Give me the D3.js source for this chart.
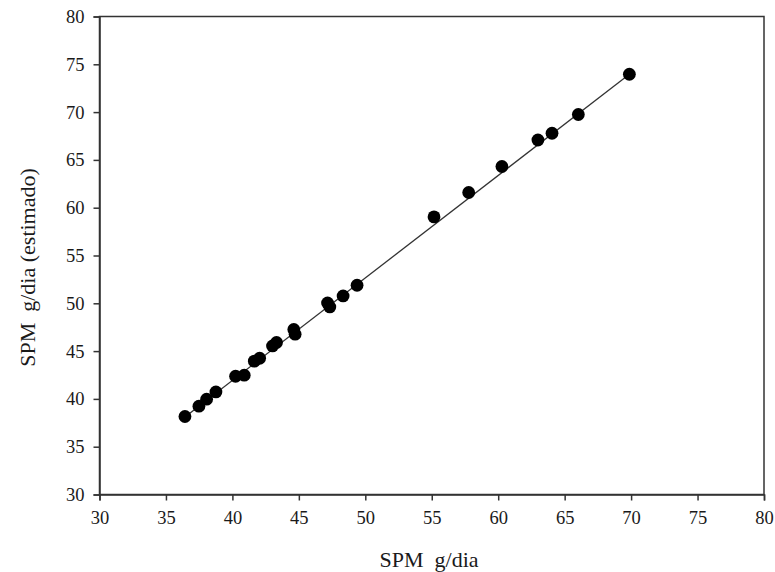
<!DOCTYPE html>
<html>
<head>
<meta charset="utf-8">
<script src="https://cdn.jsdelivr.net/npm/d3@7/dist/d3.min.js"></script>
<style>
  html, body { margin: 0; padding: 0; background: #fff; }
  svg text { font-family: "Liberation Serif", "Times New Roman", serif; fill: #1a1a1a; }
</style>
</head>
<body>
<svg id="chart" width="775" height="572"></svg>
<script>
// Observed vs. estimated SPM (g/dia)
const spmObserved = [36.43, 37.48, 38.06, 38.76, 40.24, 40.89, 41.65, 42.05, 43.02, 43.32,
                     44.62, 44.72, 47.16, 47.33, 48.33, 49.38, 55.17, 57.78, 60.28, 62.99,
                     64.05, 66.03, 69.87];
const spmEstimated = [38.16, 39.24, 39.97, 40.73, 42.37, 42.48, 43.95, 44.25, 45.54, 45.90,
                      47.26, 46.77, 50.04, 49.62, 50.77, 51.89, 59.04, 61.59, 64.31, 67.08,
                      67.79, 69.75, 73.96];

// Fitted line end points
const fitX = [36.43, 69.87];
const fitY = [38.10, 73.96];

const xTicks = [30, 35, 40, 45, 50, 55, 60, 65, 70, 75, 80];
const yTicks = [30, 35, 40, 45, 50, 55, 60, 65, 70, 75, 80];

const xTitle = "SPM\u00a0\u00a0g/dia";
const yTitle = "SPM\u00a0\u00a0g/dia (estimado)";

const svg = d3.select("#chart");
const plotLeft = 99.5, plotRight = 764, plotTop = 16.5, plotBottom = 494.5;

const x = d3.scaleLinear().domain([30, 80]).range([plotLeft, plotRight]);
const y = d3.scaleLinear().domain([30, 80]).range([plotBottom, plotTop]);

const axisColor = "#333";

// frame
svg.append("rect")
  .attr("x", plotLeft).attr("y", plotTop)
  .attr("width", plotRight - plotLeft).attr("height", plotBottom - plotTop)
  .attr("fill", "none").attr("stroke", axisColor).attr("stroke-width", 1.5);

// x axis
const gx = svg.append("g")
  .attr("transform", `translate(0,${plotBottom})`)
  .call(d3.axisBottom(x).tickValues(xTicks).tickSize(6).tickPadding(10).tickFormat(d3.format("d")));
gx.select(".domain").attr("stroke", axisColor).attr("stroke-width", 1.5);
gx.selectAll(".tick line").attr("stroke", axisColor).attr("stroke-width", 1.5);
gx.selectAll(".tick text").style("font-size", "18.5px").attr("fill", "#1a1a1a");

// y axis
const gy = svg.append("g")
  .attr("transform", `translate(${plotLeft},0)`)
  .call(d3.axisLeft(y).tickValues(yTicks).tickSize(6).tickPadding(9).tickFormat(d3.format("d")));
gy.select(".domain").attr("stroke", axisColor).attr("stroke-width", 1.5);
gy.selectAll(".tick line").attr("stroke", axisColor).attr("stroke-width", 1.5);
gy.selectAll(".tick text").style("font-size", "18.5px").attr("fill", "#1a1a1a");

// fitted line
svg.append("path")
  .datum(fitX.map((v, i) => [v, fitY[i]]))
  .attr("d", d3.line().x(d => x(d[0])).y(d => y(d[1])))
  .attr("fill", "none").attr("stroke", "#333").attr("stroke-width", 1.3);

// data points
svg.append("g").selectAll("circle")
  .data(spmObserved.map((v, i) => [v, spmEstimated[i]]))
  .join("circle")
  .attr("cx", d => x(d[0]))
  .attr("cy", d => y(d[1]))
  .attr("r", 6.4)
  .attr("fill", "#000");

// axis titles
svg.append("text")
  .attr("x", 429)
  .attr("y", 567)
  .attr("text-anchor", "middle")
  .style("font-size", "22px")
  .text(xTitle);

svg.append("text")
  .attr("transform", `translate(35,267.5) rotate(-90)`)
  .attr("text-anchor", "middle")
  .style("font-size", "22px")
  .text(yTitle);
</script>
</body>
</html>
